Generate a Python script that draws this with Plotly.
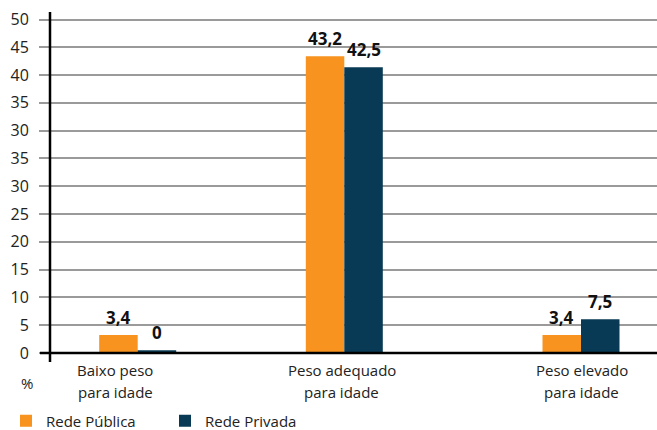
import plotly.graph_objects as go

# ---- data ----
categories = ["Baixo peso<br>para idade", "Peso adequado<br>para idade", "Peso elevado<br>para idade"]
series_names = ["Rede Pública", "Rede Privada"]
# bar heights as drawn in the reference (axis units)
publica_heights = [3.24, 53.4, 3.24]
privada_heights = [0.5, 51.4, 6.06]
# value labels printed above the bars
publica_labels = ["3,4", "43,2", "3,4"]
privada_labels = ["0", "42,5", "7,5"]
# y tick labels as printed in the reference
tick_values = [0, 5, 10, 15, 20, 25, 30, 35, 40, 45, 50, 55, 60]
tick_labels = ["0", "5", "10", "15", "20", "25", "30", "35", "30", "35", "40", "45", "50"]

# ---- layout helpers (positions in x-axis units) ----
group_centers = [137.7, 344.3, 581.0]
label_centers = [115.0, 341.5, 581.5]
bar_w = 38.5

ORANGE = "#F7931E"
NAVY = "#083A55"
FONT = "Open Sans"
TXT = "#222222"

fig = go.Figure()
fig.add_trace(go.Bar(x=group_centers, y=publica_heights, width=bar_w, offset=-bar_w,
                     marker=dict(color=ORANGE, line=dict(width=0)), name=series_names[0]))
fig.add_trace(go.Bar(x=group_centers, y=privada_heights, width=bar_w, offset=0,
                     marker=dict(color=NAVY, line=dict(width=0)), name=series_names[1]))

annotations = []
for xs, hs, labs, off in [(group_centers, publica_heights, publica_labels, -bar_w / 2),
                          (group_centers, privada_heights, privada_labels, bar_w / 2)]:
    for xc, h, t in zip(xs, hs, labs):
        annotations.append(dict(x=xc + off, y=h, xref="x", yref="y", text=f"<b>{t}</b>",
                                showarrow=False, yanchor="bottom", yshift=4,
                                font=dict(family=FONT, size=17, color="#111111")))
for xc, cat in zip(label_centers, categories):
    lines = cat.split("<br>")
    for i, ln in enumerate(lines):
        annotations.append(dict(x=xc, y=0, xref="x", yref="paper", text=ln, showarrow=False,
                                yanchor="middle", yshift=-17 - 22 * i,
                                font=dict(family=FONT, size=15, color=TXT)))
annotations.append(dict(x=0, y=0, xref="paper", yref="paper", text="%", showarrow=False,
                        xanchor="center", yanchor="middle", xshift=-23, yshift=-30,
                        font=dict(family=FONT, size=15, color=TXT)))

shapes = [
    dict(type="line", xref="paper", yref="paper", x0=-10 / 607, x1=1, y0=0, y1=0,
         line=dict(color="black", width=2.5)),
    dict(type="line", xref="paper", yref="paper", x0=0, x1=0, y0=-9 / 341, y1=1,
         line=dict(color="black", width=2.5)),
]

fig.update_layout(
    width=657, height=430,
    margin=dict(l=50, r=0, t=12, b=77, autoexpand=False),
    paper_bgcolor="white", plot_bgcolor="white",
    font=dict(family=FONT, size=15, color=TXT),
    barmode="overlay",
    showlegend=True,
    legend=dict(orientation="h", xref="container", yref="container",
                x=6.0 / 657, xanchor="left", y=9 / 430, yanchor="middle",
                font=dict(family=FONT, size=15, color=TXT), entrywidth=114,
                entrywidthmode="pixels", traceorder="normal"),
    xaxis=dict(range=[50, 657], showgrid=False, zeroline=False, showline=False,
               showticklabels=False, ticks=""),
    yaxis=dict(range=[0, 61.35], tickvals=tick_values, ticktext=tick_labels,
               showgrid=True, gridcolor="#9a9a9a", gridwidth=2, zeroline=False,
               showline=False, ticks="outside", ticklen=10, tickwidth=2, tickcolor="#9a9a9a",
               ticklabelstandoff=7, tickfont=dict(family=FONT, size=16, color=TXT)),
    annotations=annotations,
    shapes=shapes,
)

fig.write_html("out.html")
